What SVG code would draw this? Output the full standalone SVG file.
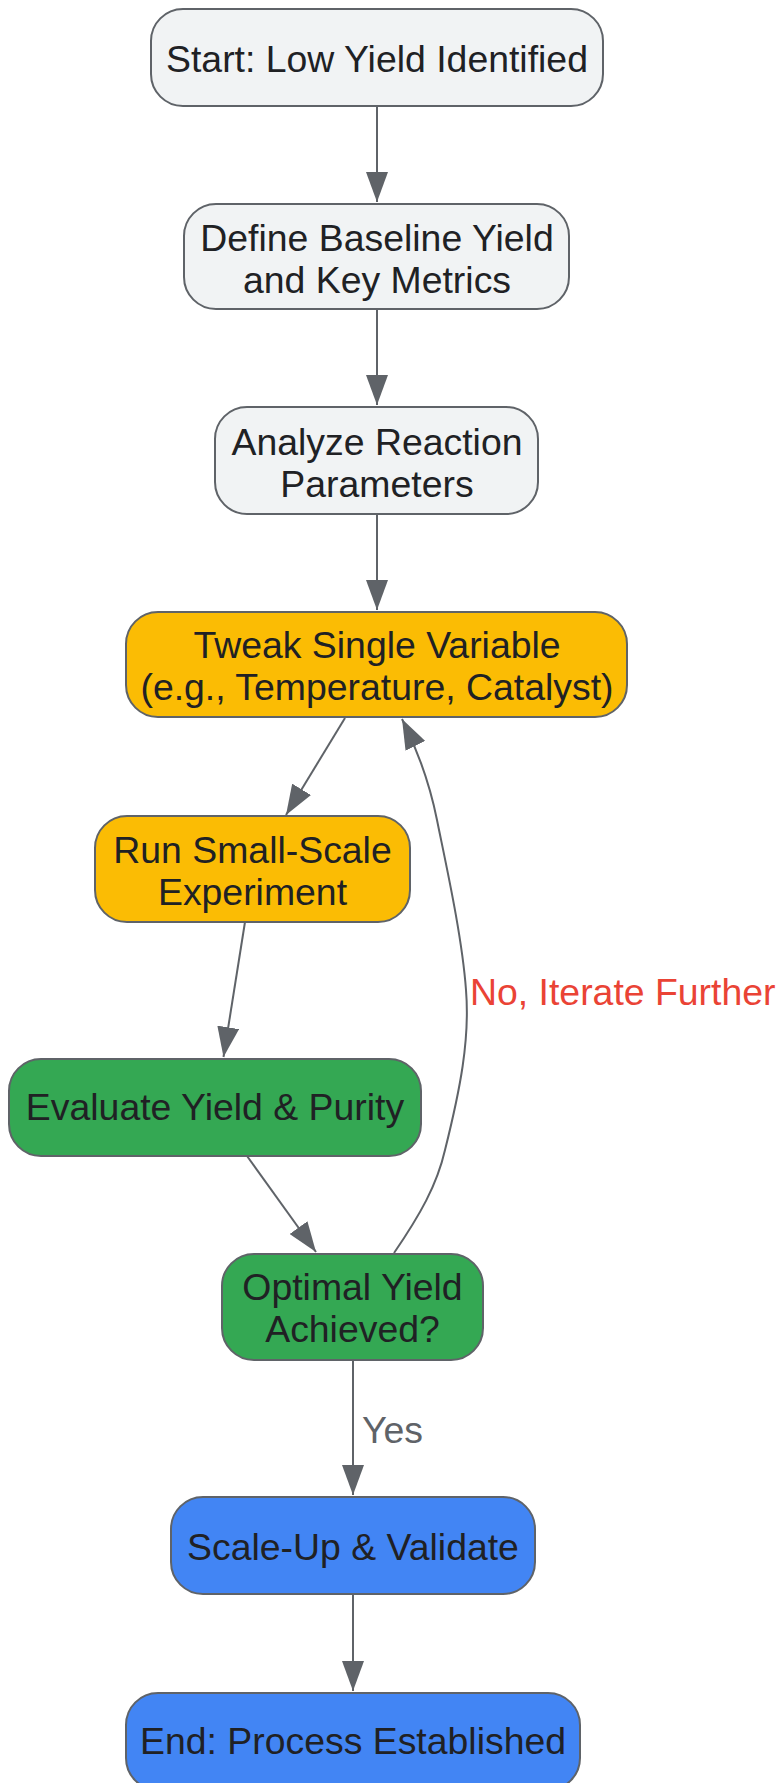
<svg xmlns="http://www.w3.org/2000/svg" width="779" height="1783" viewBox="0 0 779 1783">
<style>
.n rect{stroke:#5f6368;stroke-width:2}
.g rect{fill:#f1f3f4}
.y rect{fill:#fbbc04}
.gr rect{fill:#34a853}
.b rect{fill:#4285f4}
text{font-family:"Liberation Sans",Arial,sans-serif;font-size:37.4px;fill:#202124;text-anchor:middle}
.e{fill:none;stroke:#5f6368;stroke-width:2;marker-end:url(#ah)}
.lbl{text-anchor:start}
</style>
<defs>
<marker id="ah" markerUnits="userSpaceOnUse" markerWidth="30" markerHeight="22" refX="30" refY="11" orient="auto" viewBox="0 0 30 22">
<path d="M0,0 L30,11 L0,22 z" fill="#5f6368"/>
</marker>
</defs>
<rect width="779" height="1783" fill="#ffffff"/>
<g id="edges">
<line class="e" x1="377" y1="106" x2="377" y2="202"/>
<line class="e" x1="377" y1="309" x2="377" y2="405"/>
<line class="e" x1="377" y1="514" x2="377" y2="610"/>
<line class="e" x1="345" y1="718" x2="286" y2="815"/>
<line class="e" x1="245" y1="922" x2="223.5" y2="1057"/>
<line class="e" x1="247" y1="1156" x2="316" y2="1252"/>
<line class="e" x1="353" y1="1360" x2="353" y2="1495"/>
<line class="e" x1="353" y1="1594" x2="353" y2="1691"/>
<path class="e" d="M394,1253 C420,1215 437,1185 445,1150 C460,1090 470,1040 466,990 C462,935 445,860 437,820 C430,785 420,755 402,719"/>
<text class="lbl" x="470" y="1005" style="fill:#ea4335">No, Iterate Further</text>
<text class="lbl" x="362" y="1443" style="fill:#5f6368">Yes</text>
</g>
<g id="start" class="n g"><rect x="151" y="9" width="452" height="97" rx="32"/><text x="377" y="72">Start: Low Yield Identified</text></g>
<g id="define" class="n g"><rect x="184" y="204" width="385" height="105" rx="32"/><text x="377" y="251">Define Baseline Yield</text><text x="377" y="293">and Key Metrics</text></g>
<g id="analyze" class="n g"><rect x="215" y="407" width="323" height="107" rx="32"/><text x="377" y="455">Analyze Reaction</text><text x="377" y="497">Parameters</text></g>
<g id="tweak" class="n y"><rect x="126" y="612" width="501" height="105" rx="32"/><text x="377" y="658">Tweak Single Variable</text><text x="377" y="700">(e.g., Temperature, Catalyst)</text></g>
<g id="run" class="n y"><rect x="95" y="816" width="315" height="106" rx="32"/><text x="252.5" y="863">Run Small-Scale</text><text x="252.5" y="905">Experiment</text></g>
<g id="evaluate" class="n gr"><rect x="9" y="1059" width="412" height="97" rx="32"/><text x="215" y="1120">Evaluate Yield &amp; Purity</text></g>
<g id="optimal" class="n gr"><rect x="222" y="1254" width="261" height="106" rx="32"/><text x="352.5" y="1300">Optimal Yield</text><text x="352.5" y="1342">Achieved?</text></g>
<g id="scale" class="n b"><rect x="171" y="1497" width="364" height="97" rx="32"/><text x="353" y="1560">Scale-Up &amp; Validate</text></g>
<g id="end" class="n b"><rect x="126" y="1693" width="454" height="97" rx="32"/><text x="353" y="1754">End: Process Established</text></g>
</svg>
